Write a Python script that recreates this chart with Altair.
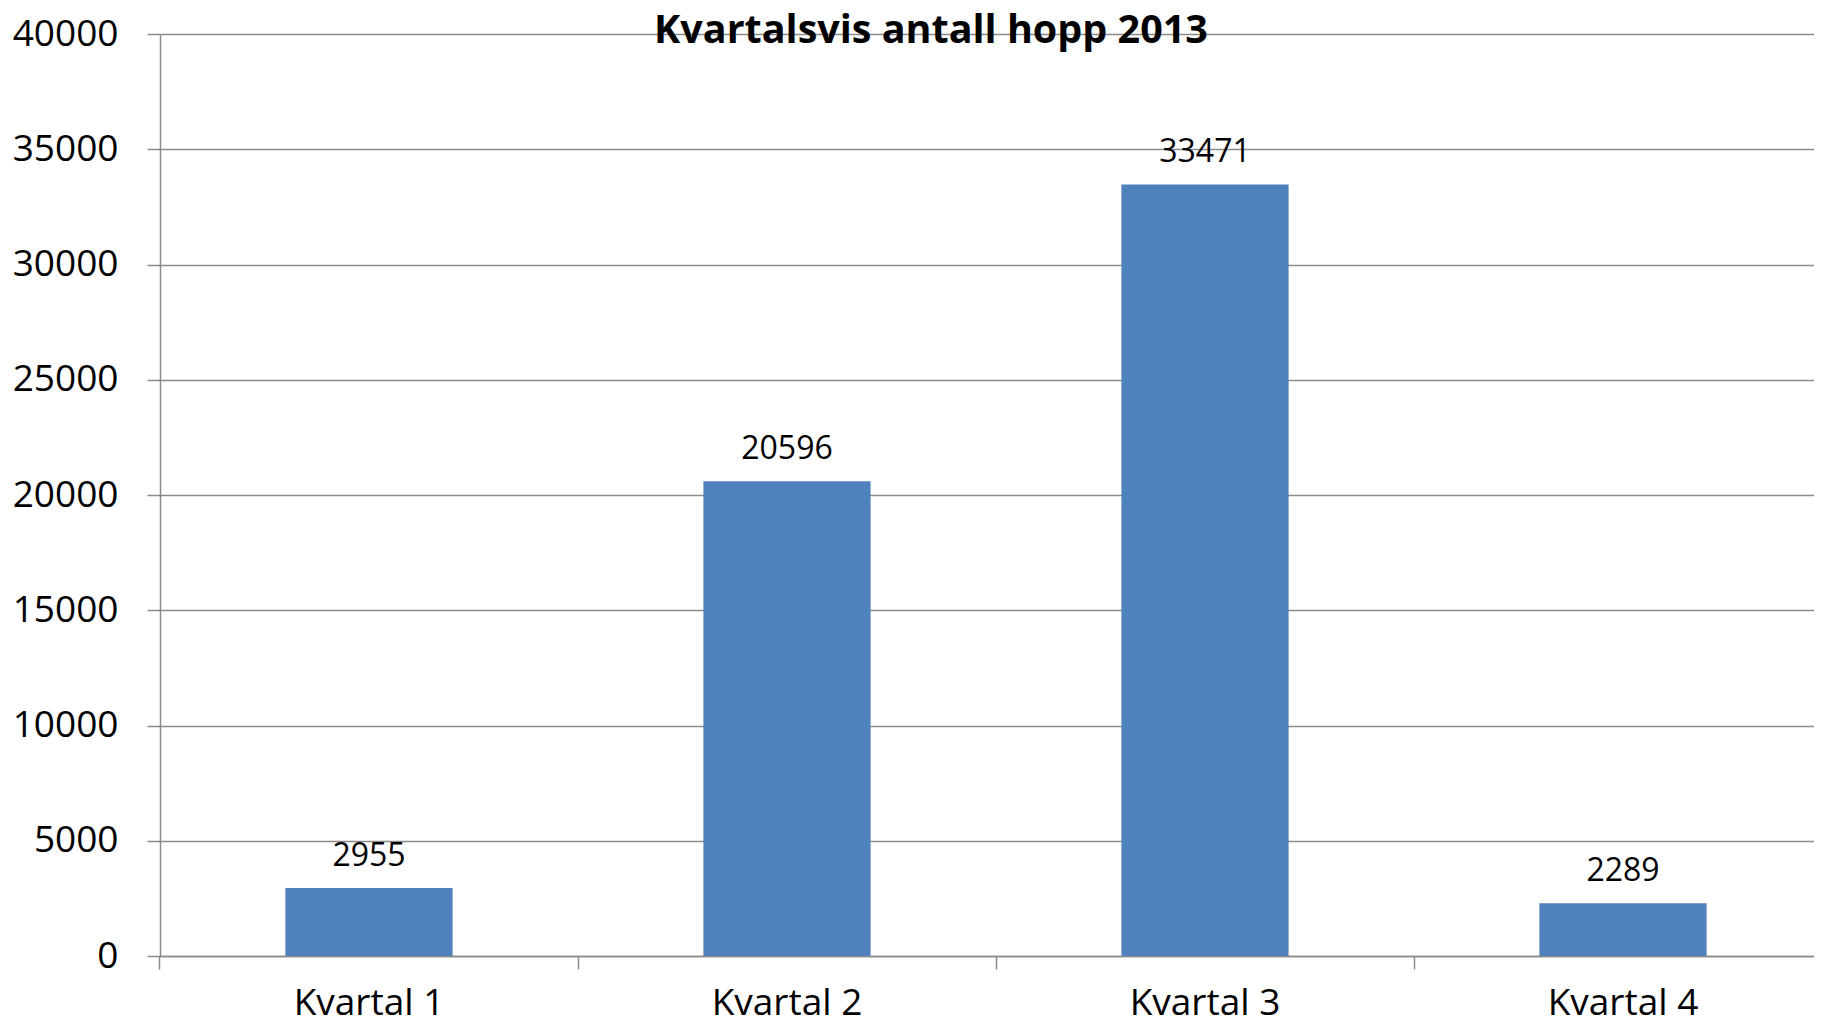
import altair as alt
import pandas as pd

categories = ["Kvartal 1", "Kvartal 2", "Kvartal 3", "Kvartal 4"]
values = [2955, 20596, 33471, 2289]
y_ticks = [0, 5000, 10000, 15000, 20000, 25000, 30000, 35000, 40000]
title_text = "Kvartalsvis antall hopp 2013"

df = pd.DataFrame({"kvartal": categories, "hopp": values})
title_df = pd.DataFrame({"title": [title_text]})

FONT = "Open Sans"
GRID = "#8a8a8a"

base = alt.Chart(df).encode(
    x=alt.X(
        "kvartal:N",
        sort=categories,
        scale=alt.Scale(paddingInner=0.6, paddingOuter=0.3, range=[0, 1672]),
        axis=alt.Axis(
            title=None,
            labelAngle=0,
            labelFont=FONT,
            labelFontSize=37,
            labelColor="black",
            labelBaseline="alphabetic",
            labelPadding=45,
            tickSize=13,
            tickColor=GRID,
            tickWidth=1.5,
            bandPosition=-0.75,
            domainColor=GRID,
            domainWidth=1.5,
            grid=False,
        ),
    ),
    y=alt.Y(
        "hopp:Q",
        scale=alt.Scale(domain=[0, 40000], nice=False),
        axis=alt.Axis(
            title=None,
            values=y_ticks,
            format="d",
            labelFont=FONT,
            labelFontSize=37,
            labelColor="black",
            labelPadding=29,
            tickSize=13,
            tickColor=GRID,
            tickWidth=1.5,
            domainColor=GRID,
            domainWidth=1.5,
            grid=True,
            gridColor=GRID,
            gridWidth=1.5,
        ),
    ),
)

bars = base.mark_bar(color="#4F81BD")

labels = base.mark_text(
    font=FONT,
    fontSize=32,
    color="black",
    baseline="alphabetic",
    align="center",
    dy=-22,
).encode(text=alt.Text("hopp:Q", format="d"))

title = alt.Chart(title_df).mark_text(
    font=FONT,
    fontSize=39.5,
    fontWeight="bold",
    color="black",
    baseline="alphabetic",
    align="center",
).encode(
    text="title:N",
    x=alt.value(771),
    y=alt.value(9),
)

chart = (
    alt.layer(bars, labels, title)
    .properties(
        width=1654,
        height=922,
        autosize=alt.AutoSizeParams(type="none"),
        padding={"left": 152, "top": 26, "right": 0, "bottom": 60},
    )
    .configure_view(stroke=None)
    .configure(background="white")
)

chart.save("out.html", embed_options={"renderer": "svg", "actions": False})
